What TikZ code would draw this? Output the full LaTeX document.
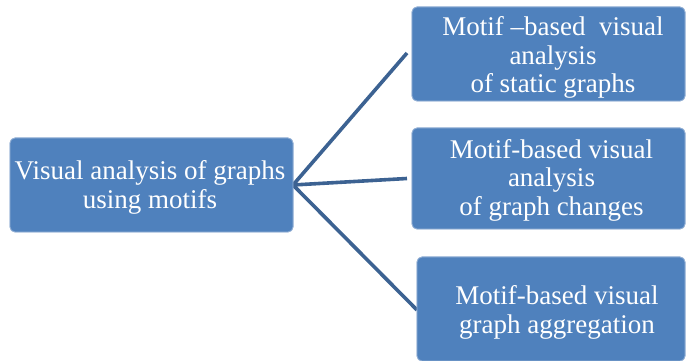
\documentclass[tikz,border=0pt]{standalone}
\usepackage{fontspec}
\setmainfont{Liberation Serif}
\begin{document}
\begin{tikzpicture}[x=1pt,y=1pt,
  box/.style={draw={rgb,255:red,150;green,178;blue,214}, line width=0.8pt,
    fill={rgb,255:red,79;green,129;blue,189}, rounded corners=5pt,
    inner sep=0pt, outer sep=0pt},
  label text/.style={text=white, align=center, inner sep=0pt,
    font=\fontsize{27pt}{28.5pt}\selectfont},
  link/.style={draw={rgb,255:red,60;green,98;blue,146}, line width=3.6pt}]
\useasboundingbox (0,0) rectangle (686,361);
% boxes (y measured upward from the bottom edge)
\node[box, minimum width=283pt, minimum height=94pt] (root) at (151.5,176) {};
\node[box, minimum width=273pt, minimum height=94pt] (st) at (548.5,307) {};
\node[box, minimum width=273pt, minimum height=101pt] (ch) at (548.5,182.5) {};
\node[box, minimum width=268pt, minimum height=104pt] (ag) at (551,52) {};
% connectors
\path[link] (root.east) -- ([xshift=-5pt,yshift=1pt]st.west);
\path[link] (root.east) -- ([xshift=-5pt]ch.west);
\path[link] (root.east) -- ([yshift=-1pt]ag.west);
% re-fill the boxes on top of the connectors
\node[box, minimum width=283pt, minimum height=94pt] at (root) {};
\node[box, minimum width=273pt, minimum height=94pt] at (st) {};
\node[box, minimum width=273pt, minimum height=101pt] at (ch) {};
\node[box, minimum width=268pt, minimum height=104pt] at (ag) {};
% texts
\node[label text] (rootT) at (150,173.5) {Visual analysis of graphs\\using motifs};
\node[label text] (stT) at (553,303.5) {Motif –based\ \ visual\\analysis\\of static graphs};
\node[label text] (chT) at (551.5,181) {Motif-based visual\\analysis\\of graph changes};
\node[label text] (agT) at (557,48.5) {Motif-based visual\\graph aggregation};
\end{tikzpicture}
\end{document}
